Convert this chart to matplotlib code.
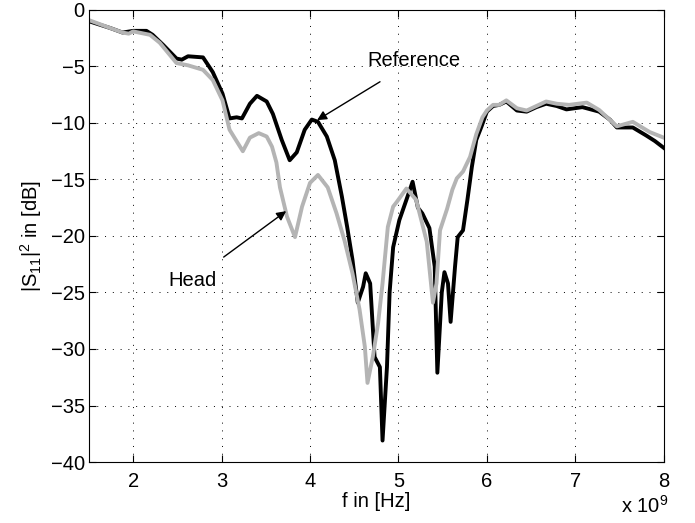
import matplotlib
matplotlib.use("Agg")
import matplotlib.pyplot as plt

plt.rcParams["font.family"] = "Liberation Sans"
plt.rcParams["mathtext.fontset"] = "custom"
plt.rcParams["mathtext.rm"] = "Liberation Sans"
plt.rcParams["mathtext.it"] = "Liberation Sans:italic"

# frequency in units of 1e9 Hz, |S11|^2 in dB
ref_f = [1.5, 1.62, 1.74, 1.88, 2.0, 2.15, 2.22, 2.34, 2.49, 2.55, 2.62, 2.79,
         2.9, 3.01, 3.09, 3.17, 3.23, 3.32, 3.4, 3.51, 3.58, 3.68, 3.77, 3.85,
         3.94, 4.02, 4.09, 4.19, 4.28, 4.36, 4.42, 4.48, 4.54, 4.6, 4.63, 4.68,
         4.73, 4.79, 4.82, 4.87, 4.9, 4.94, 5.01, 5.09, 5.16, 5.22, 5.27, 5.35,
         5.41, 5.44, 5.49, 5.52, 5.56, 5.59, 5.64, 5.67, 5.73, 5.78, 5.83, 5.88,
         5.94, 6.0, 6.07, 6.14, 6.22, 6.34, 6.45, 6.56, 6.67, 6.79, 6.9, 7.08,
         7.27, 7.39, 7.47, 7.65, 7.8, 7.9, 8.0]
ref_db = [-1.0, -1.3, -1.6, -2.0, -1.85, -1.85, -2.2, -3.1, -4.3, -4.4, -4.1, -4.2,
          -5.5, -7.4, -9.6, -9.5, -9.6, -8.3, -7.6, -8.1, -9.2, -11.5, -13.3, -12.6,
          -10.6, -9.7, -9.9, -11.2, -13.3, -16.5, -19.2, -22.1, -25.9, -24.5, -23.3, -24.2,
          -30.7, -31.6, -38.1, -31.6, -25.0, -21.0, -18.6, -16.8, -15.2, -17.5, -18.0, -19.3,
          -22.7, -32.1, -25.0, -23.2, -24.2, -27.6, -22.7, -20.1, -19.5, -16.8, -13.9, -11.5,
          -10.3, -9.0, -8.5, -8.4, -8.1, -8.9, -9.0, -8.6, -8.3, -8.5, -8.8, -8.6,
          -9.0, -9.7, -10.4, -10.4, -11.1, -11.6, -12.2]

head_f = [1.5, 1.74, 1.88, 1.95, 2.0, 2.19, 2.3, 2.49, 2.62, 2.79, 2.9, 3.01,
          3.09, 3.24, 3.32, 3.42, 3.51, 3.57, 3.62, 3.66, 3.74, 3.83, 3.91, 4.0,
          4.09, 4.2, 4.3, 4.39, 4.48, 4.56, 4.62, 4.65, 4.71, 4.77, 4.82, 4.88,
          4.94, 4.98, 5.09, 5.2, 5.32, 5.39, 5.43, 5.47, 5.55, 5.61, 5.66, 5.73,
          5.81, 5.88, 5.95, 6.0, 6.07, 6.14, 6.22, 6.34, 6.45, 6.56, 6.67, 6.79,
          6.93, 7.13, 7.27, 7.47, 7.65, 7.84, 8.0]
head_db = [-0.9, -1.6, -2.0, -2.1, -1.9, -2.2, -2.9, -4.7, -4.9, -5.3, -6.2, -8.0,
           -10.6, -12.5, -11.3, -10.9, -11.2, -12.1, -13.5, -15.7, -18.3, -20.1, -17.4, -15.3,
           -14.6, -15.7, -18.0, -20.4, -23.3, -26.5, -29.8, -33.0, -30.7, -27.7, -24.2, -19.2,
           -17.4, -17.0, -15.8, -16.8, -20.5, -25.9, -24.2, -19.5, -17.6, -15.9, -14.9, -14.3,
           -13.0, -11.0, -9.5, -8.9, -8.4, -8.4, -8.0, -8.7, -8.9, -8.5, -8.1, -8.3,
           -8.4, -8.2, -8.85, -10.3, -9.9, -10.8, -11.3]

fig = plt.figure(figsize=(6.95, 5.23), dpi=100)
ax = fig.add_axes([0.128, 0.1166, 0.827, 0.8644])

ax.plot(ref_f, ref_db, color="black", lw=2.8, solid_joinstyle="round")
ax.plot(head_f, head_db, color="#b4b4b4", lw=2.8, solid_joinstyle="round")

ax.set_xlim(1.5, 8)
ax.set_ylim(-40, 0)
ax.set_xticks([2, 3, 4, 5, 6, 7, 8])
ax.set_yticks(range(-40, 1, 5))
ax.grid(True, color="black", linestyle=(0, (1, 7)), linewidth=0.7)
ax.tick_params(direction="in", top=True, right=True, length=5, width=0.8,
               labelsize=14.5)
ax.tick_params(axis="x", pad=7)
ax.tick_params(axis="y", pad=3)
for s in ax.spines.values():
    s.set_linewidth(0.8)

ax.set_xlabel("f in [Hz]", fontsize=14.5, labelpad=1)
ax.set_ylabel(r"|S$_{\mathrm{11}}$|$^{\mathrm{2}}$ in [dB]", fontsize=14.5, labelpad=5)
fig.text(0.962, 0.012, r"x 10$^{\mathrm{9}}$", fontsize=14.5, ha="right", va="bottom")

ax.annotate("Reference", xy=(4.08, -9.75), xytext=(5.18, -4.5), fontsize=14.5,
            ha="center", va="center",
            arrowprops=dict(arrowstyle="-|>", color="black", lw=1,
                            mutation_scale=14, shrinkA=12, shrinkB=0))
ax.annotate("Head", xy=(3.73, -17.8), xytext=(2.67, -23.9), fontsize=14.5,
            ha="center", va="center",
            arrowprops=dict(arrowstyle="-|>", color="black", lw=1,
                            mutation_scale=14, shrinkA=13, shrinkB=0))

fig.savefig("out.png", dpi=100)
